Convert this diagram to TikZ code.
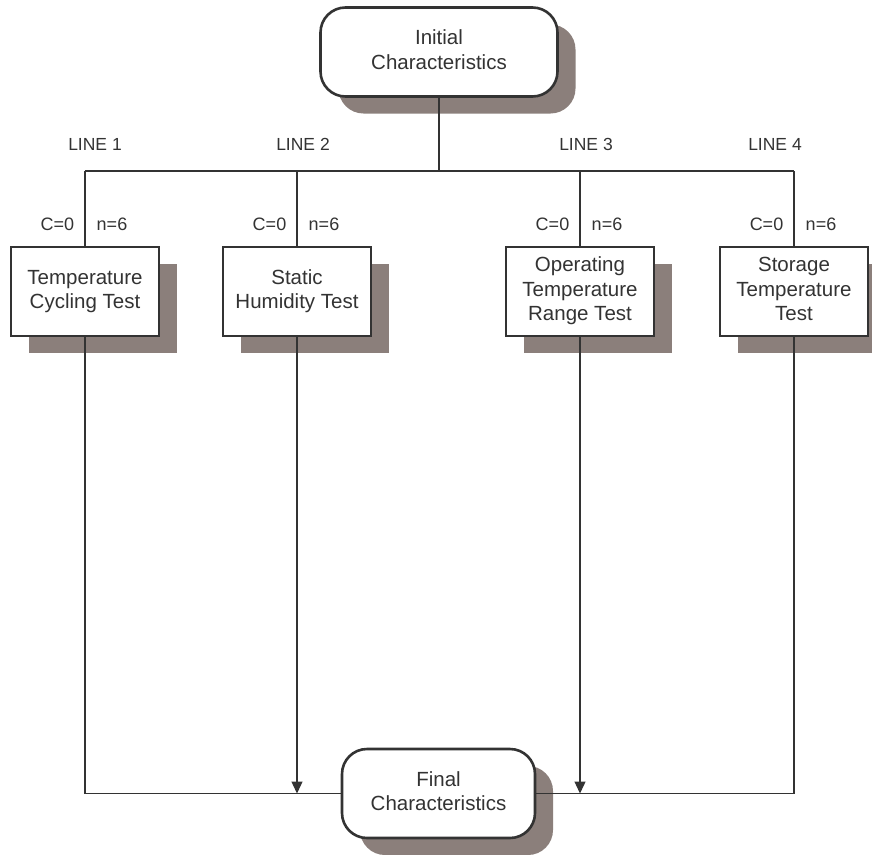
\documentclass[tikz,border=0pt]{standalone}
\usepackage{fontspec}
\setmainfont{Liberation Sans}
\usetikzlibrary{shadows,arrows.meta}
\definecolor{shadowc}{RGB}{139,127,123}
\definecolor{ink}{RGB}{51,51,51}
\tikzset{
  shadowed/.style={general shadow={fill=shadowc, draw=none, shadow xshift=18pt, shadow yshift=-17pt}},
  termbox/.style={shadowed, draw=ink, line width=2.6pt, fill=white, rounded corners=25pt, align=center,
    text=ink, font=\fontsize{20.5}{24.5}\selectfont, inner sep=0pt},
  testbox/.style={shadowed, draw=ink, line width=2.6pt, fill=white, align=center, text=ink,
    minimum width=148pt, minimum height=89pt, inner sep=0pt, font=\fontsize{20.5}{24.5}\selectfont},
  lbl/.style={text=ink, font=\fontsize{17.5}{20}\selectfont, inner sep=0pt},
  cn/.style={text=ink, font=\fontsize{18}{20}\selectfont, inner sep=0pt},
  conn/.style={draw=ink, line width=1.3pt},
  arr/.style={conn, -{Triangle[width=11pt,length=12pt]}}
}
\begin{document}
\begin{tikzpicture}[x=1pt,y=-1pt]
\useasboundingbox (0,0) rectangle (872,854);
% nodes
\node[termbox, minimum width=237pt, minimum height=89pt] (init) at (439,52) {\strut Initial\\Characteristics\strut};
\node[termbox, minimum width=193pt, minimum height=89pt] (final) at (438.5,793.5) {\strut Final\\Characteristics\strut};
\node[testbox] (t1) at (85,291.5) {\strut Temperature\\Cycling Test\strut};
\node[testbox] (t2) at (297,291.5) {\strut Static\\Humidity Test\strut};
\node[testbox] (t3) at (580,291.5) {\strut Operating\\Temperature\\Range Test\strut};
\node[testbox] (t4) at (794,291.5) {\strut Storage\\Temperature\\Test\strut};
% labels
\node[lbl] (l1) at (95,144) {LINE 1};
\node[lbl] (l2) at (303,144) {LINE 2};
\node[lbl] (l3) at (586,144) {LINE 3};
\node[lbl] (l4) at (775,144) {LINE 4};
\foreach \i/\x in {1/85,2/297,3/580,4/794}{
  \node[cn] (c\i) at (\x-27.5,224) {C=0};
  \node[cn] (n\i) at (\x+27,224) {n=6};
}
% coordinates
\coordinate (top) at (439,171);
\coordinate (a1) at (85,171);
\coordinate (a4) at (794,171);
\coordinate (b1) at (85,793.5);
\coordinate (b4) at (794,793.5);
\coordinate (b2) at (297,793.5);
\coordinate (b3) at (580,793.5);
% connectors
\draw[conn] (init.south) -- (top);
\draw[conn] (a1) -- (a4);
\draw[conn] (a1) -- (t1.north);
\draw[conn] (t2.north |- a1) -- (t2.north);
\draw[conn] (t3.north |- a1) -- (t3.north);
\draw[conn] (a4) -- (t4.north);
\draw[conn] (t1.south) -- (b1) -- (final.west);
\draw[conn] (t4.south) -- (b4) -- (final.east);
\draw[arr] (t2.south) -- (b2);
\draw[arr] (t3.south) -- (b3);
\end{tikzpicture}
\end{document}
